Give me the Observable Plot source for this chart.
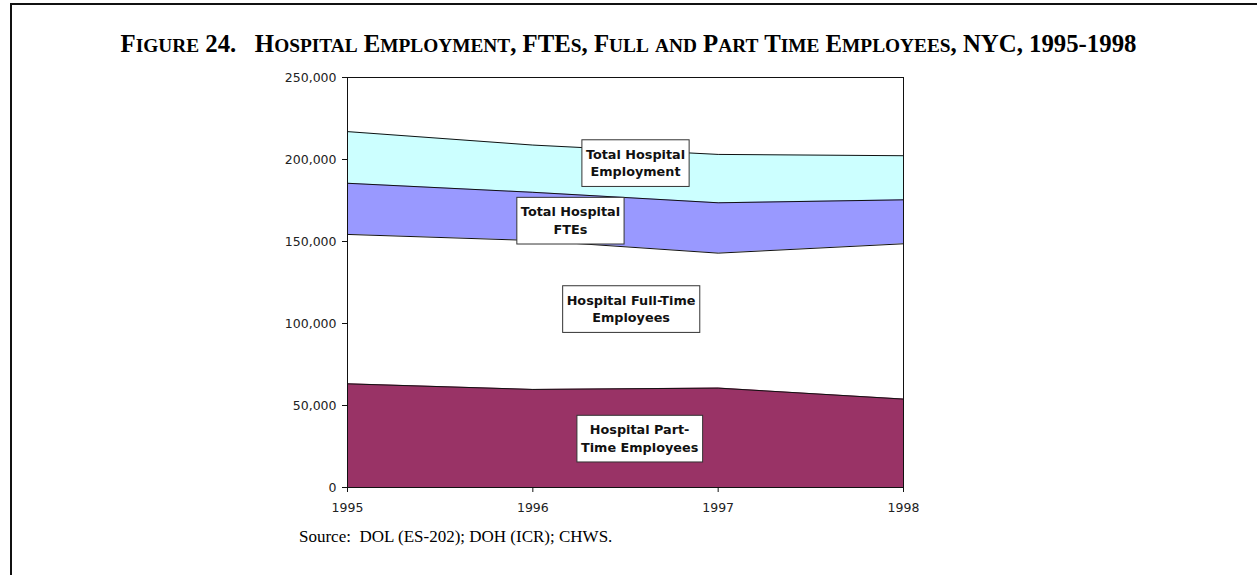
<!DOCTYPE html>
<html><head><meta charset="utf-8">
<script src="https://cdn.jsdelivr.net/npm/d3@7"></script>
<script src="https://cdn.jsdelivr.net/npm/@observablehq/plot@0.6"></script>
<style>
html,body{margin:0;padding:0;background:#fff;}
body{width:1257px;height:575px;position:relative;overflow:hidden;}
#frame{position:absolute;left:10px;top:3px;width:1247px;height:600px;border-left:2px solid #111;border-top:2px solid #111;box-sizing:border-box;pointer-events:none;}
#title{height:62px;box-sizing:border-box;padding-top:32px;text-align:center;font-family:"Liberation Serif","Times New Roman",serif;font-weight:bold;font-size:22px;line-height:24px;white-space:pre;color:#000;}
#title .sc{font-size:0.78em;}
#chart svg{display:block;}
#source{font-family:"Liberation Serif","Times New Roman",serif;font-size:17px;padding-left:299px;padding-top:5px;line-height:20px;white-space:pre;color:#000;}
</style></head>
<body>
<div id="frame"></div>
<div id="title"><span id="titleText"></span></div>
<div id="chart"></div>
<div id="source">Source:  DOL (ES-202); DOH (ICR); CHWS.</div>
<script>
// ---- data ----
const titleString = "Figure 24.   Hospital Employment, FTEs, Full and Part Time Employees, NYC, 1995-1998";
const years = [1995, 1996, 1997, 1998];
const totalEmployment = [217000, 208800, 203100, 202300];
const totalFTEs       = [185500, 180000, 173600, 175400];
const fullTime        = [154300, 150600, 142900, 148600];
const partTime        = [63200, 59800, 60600, 53900];
const seriesNames = ["Total Hospital Employment", "Total Hospital FTEs", "Hospital Full-Time Employees", "Hospital Part-Time Employees"];
const labelTexts = ["Total Hospital\nEmployment", "Total Hospital\nFTEs", "Hospital Full-Time\nEmployees", "Hospital Part-\nTime Employees"];
const yTicks = [0, 50000, 100000, 150000, 200000, 250000];

// ---- title in small caps ----
const titleEl = document.getElementById("titleText");
titleString.split(/([a-z]+)/).forEach(part => {
  if (!part) return;
  if (/^[a-z]+$/.test(part)) {
    const s = document.createElement("span");
    s.className = "sc";
    s.textContent = part.toUpperCase();
    titleEl.appendChild(s);
  } else {
    titleEl.appendChild(document.createTextNode(part));
  }
});
// fit the title to the reference's printed width
{
  const w = titleEl.getBoundingClientRect().width;
  const target = 1016;
  const fs = 22 * target / w;
  document.getElementById("title").style.fontSize = fs.toFixed(2) + "px";
}

// ---- styling / placement ----
const colors = ["#CCFFFF", "#9999FF", "#FFFFFF", "#993366"];
const labelAnchors = [
  {x: 1996.554, y: 198500},
  {x: 1996.203, y: 163400},
  {x: 1996.530, y: 109500},
  {x: 1996.576, y: 30500}
];

const seriesValues = [totalEmployment, totalFTEs, fullTime, partTime];
const marks = [];
seriesValues.forEach((vals, j) => {
  const d = years.map((yr, i) => ({year: yr, value: vals[i], series: seriesNames[j]}));
  marks.push(Plot.areaY(d, {x: "year", y: "value", fill: colors[j]}));
  marks.push(Plot.lineY(d, {x: "year", y: "value", stroke: "#111", strokeWidth: 1}));
});
const labels = labelTexts.map((t, i) => ({text: t, x: labelAnchors[i].x, y: labelAnchors[i].y}));

const plot = Plot.plot({
  width: 1257,
  height: 460,
  marginLeft: 347,
  marginRight: 354,
  marginTop: 15,
  marginBottom: 35,
  style: {fontFamily: "'DejaVu Sans', Verdana, sans-serif", fontSize: "12.5px", color: "#222", background: "transparent"},
  x: {domain: [1995, 1998]},
  y: {domain: [0, 250000]},
  marks: [
    ...marks,
    Plot.frame({stroke: "#111"}),
    Plot.axisY({ticks: yTicks, tickFormat: d3.format(","), tickSize: 5, tickPadding: 6, label: null, stroke: "#111"}),
    Plot.axisX({ticks: years, tickFormat: d => String(d), tickSize: 5, tickPadding: 11, label: null, stroke: "#111"}),
    Plot.text(labels, {x: "x", y: "y", text: "text", fontSize: 12.8, fontWeight: "bold", lineHeight: 1.38, fill: "#111"})
  ]
});
document.getElementById("chart").appendChild(plot);

// draw white boxes behind the annotation labels
d3.select(plot).selectAll('g[aria-label="text"] text').each(function () {
  const b = this.getBBox();
  const padX = 4, padY = 7;
  const r = document.createElementNS("http://www.w3.org/2000/svg", "rect");
  r.setAttribute("x", b.x - padX);
  r.setAttribute("y", b.y - padY);
  r.setAttribute("width", b.width + 2 * padX);
  r.setAttribute("height", b.height + 2 * padY);
  r.setAttribute("fill", "#fff");
  r.setAttribute("stroke", "#333");
  r.setAttribute("stroke-width", "1");
  const tr = this.getAttribute("transform");
  if (tr) r.setAttribute("transform", tr);
  this.parentNode.insertBefore(r, this);
});
</script>
</body></html>
